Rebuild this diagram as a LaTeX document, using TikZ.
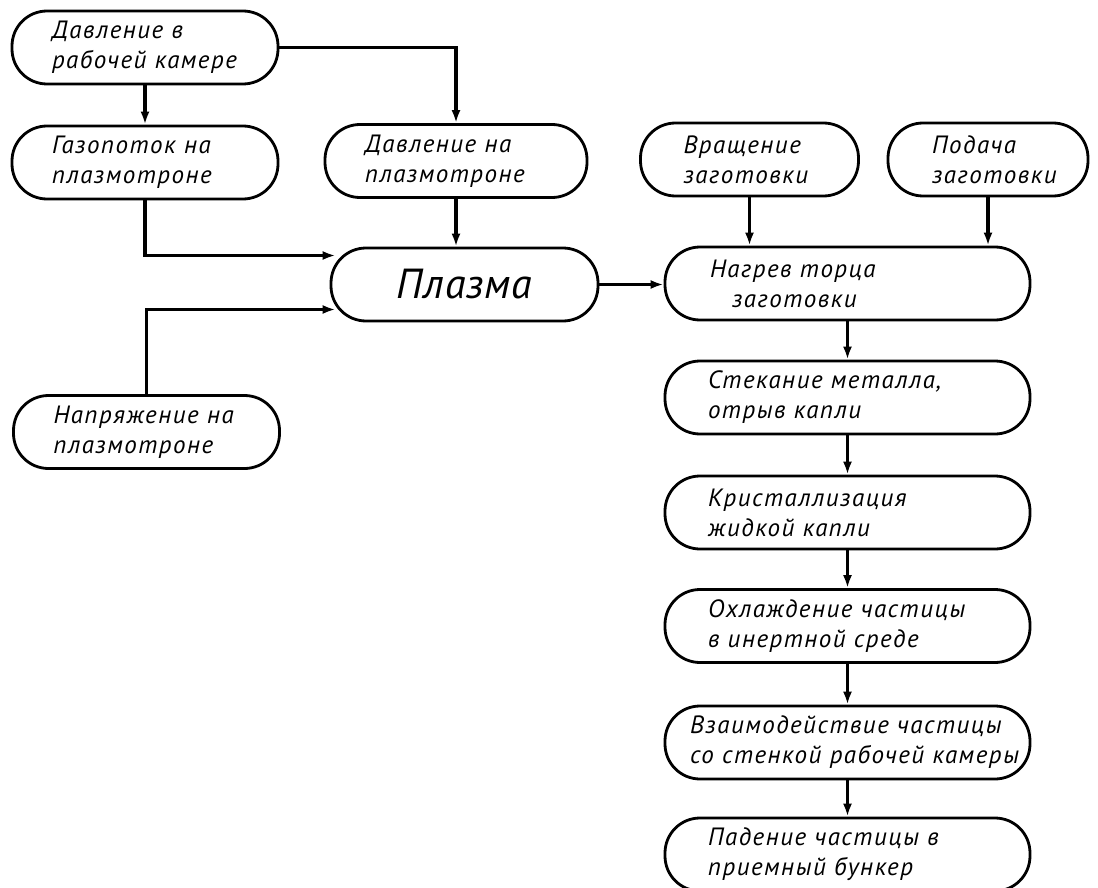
\documentclass[tikz,border=0pt]{standalone}
\usepackage{fontspec}
\setmainfont{PT Sans}
\usepackage{tikz}
\usetikzlibrary{arrows.meta}
\newcommand{\boxfont}{\itshape\fontsize{25}{30}\selectfont\addfontfeature{LetterSpace=6}}
\newcommand{\bigfont}{\itshape\fontsize{42}{48}\selectfont\addfontfeature{LetterSpace=2}}
\begin{document}
\begin{tikzpicture}[x=1pt,y=-1pt,
  blk/.style={draw, line width=2.8pt, rounded corners=35pt, minimum height=73pt,
    inner ysep=0pt, align=left, font=\boxfont},
  arr/.style={line width=3.2pt, -{Latex[length=13pt,width=9pt]}}]
\useasboundingbox (0,0) rectangle (1098,888);
% left column
\node[blk, text width=186pt, inner xsep=40pt] (davl) at (145,47.5) {Давление в\\рабочей камере};
\node[blk, text width=186pt, inner xsep=40pt] (gaz) at (145,162.5) {Газопоток на\\плазмотроне};
\node[blk, text width=186pt, inner xsep=40pt] (napr) at (146.5,432) {Напряжение на\\плазмотроне};
\node[blk, text width=182pt, inner xsep=40pt] (davlpl) at (456,161) {Давление на\\плазмотроне};
% plasma
\node[blk, minimum width=267pt, align=center, font=\bigfont] (plazma) at (464.5,284.5) {Плазма};
% workpiece
\node[blk, text width=132pt, inner xsep=43pt] (vrash) at (749.5,159.5) {Вращение\\заготовки};
\node[blk, text width=112pt, inner xsep=44pt] (podacha) at (988,159.5) {Подача\\заготовки};
% right column
\node[blk, text width=275pt, inner xsep=45pt] (nagrev) at (847.5,283.5) {Нагрев торца\\\hspace*{22pt}заготовки};
\node[blk, text width=279pt, inner xsep=43pt] (stek) at (847.5,397.5) {Стекание металла,\\отрыв капли};
\node[blk, text width=279pt, inner xsep=43pt] (krist) at (847.5,512.5) {Кристаллизация\\жидкой капли};
\node[blk, text width=279pt, inner xsep=43pt] (ohl) at (847.5,626) {Охлаждение частицы\\в инертной среде};
\node[blk, text width=315pt, inner xsep=25pt] (vzaim) at (847.5,742.5) {Взаимодействие частицы\\со~стенкой~рабочей~камеры};
\node[blk, text width=279pt, inner xsep=43pt] (pad) at (847.5,854.5) {Падение частицы в\\приемный бункер};
% connectors
\draw[arr] (davl) -- (gaz);
\draw[arr] (davl.east) -| (davlpl.north);
\draw[arr] (gaz.south) |- ([xshift=6pt,yshift=29pt]plazma.west);
\draw[arr] (napr.north) |- ([xshift=6pt,yshift=-25pt]plazma.west);
\draw[arr] (davlpl) -- (davlpl |- plazma.north);
\draw[arr] (plazma.east) -- (plazma.east -| nagrev.west);
\draw[arr] (vrash) -- (vrash |- nagrev.north);
\draw[arr] (podacha) -- (podacha |- nagrev.north);
\draw[arr] (nagrev) -- (stek);
\draw[arr] (stek) -- (krist);
\draw[arr] (krist) -- (ohl);
\draw[arr] (ohl) -- (vzaim);
\draw[arr] (vzaim) -- (pad);
\end{tikzpicture}
\end{document}
